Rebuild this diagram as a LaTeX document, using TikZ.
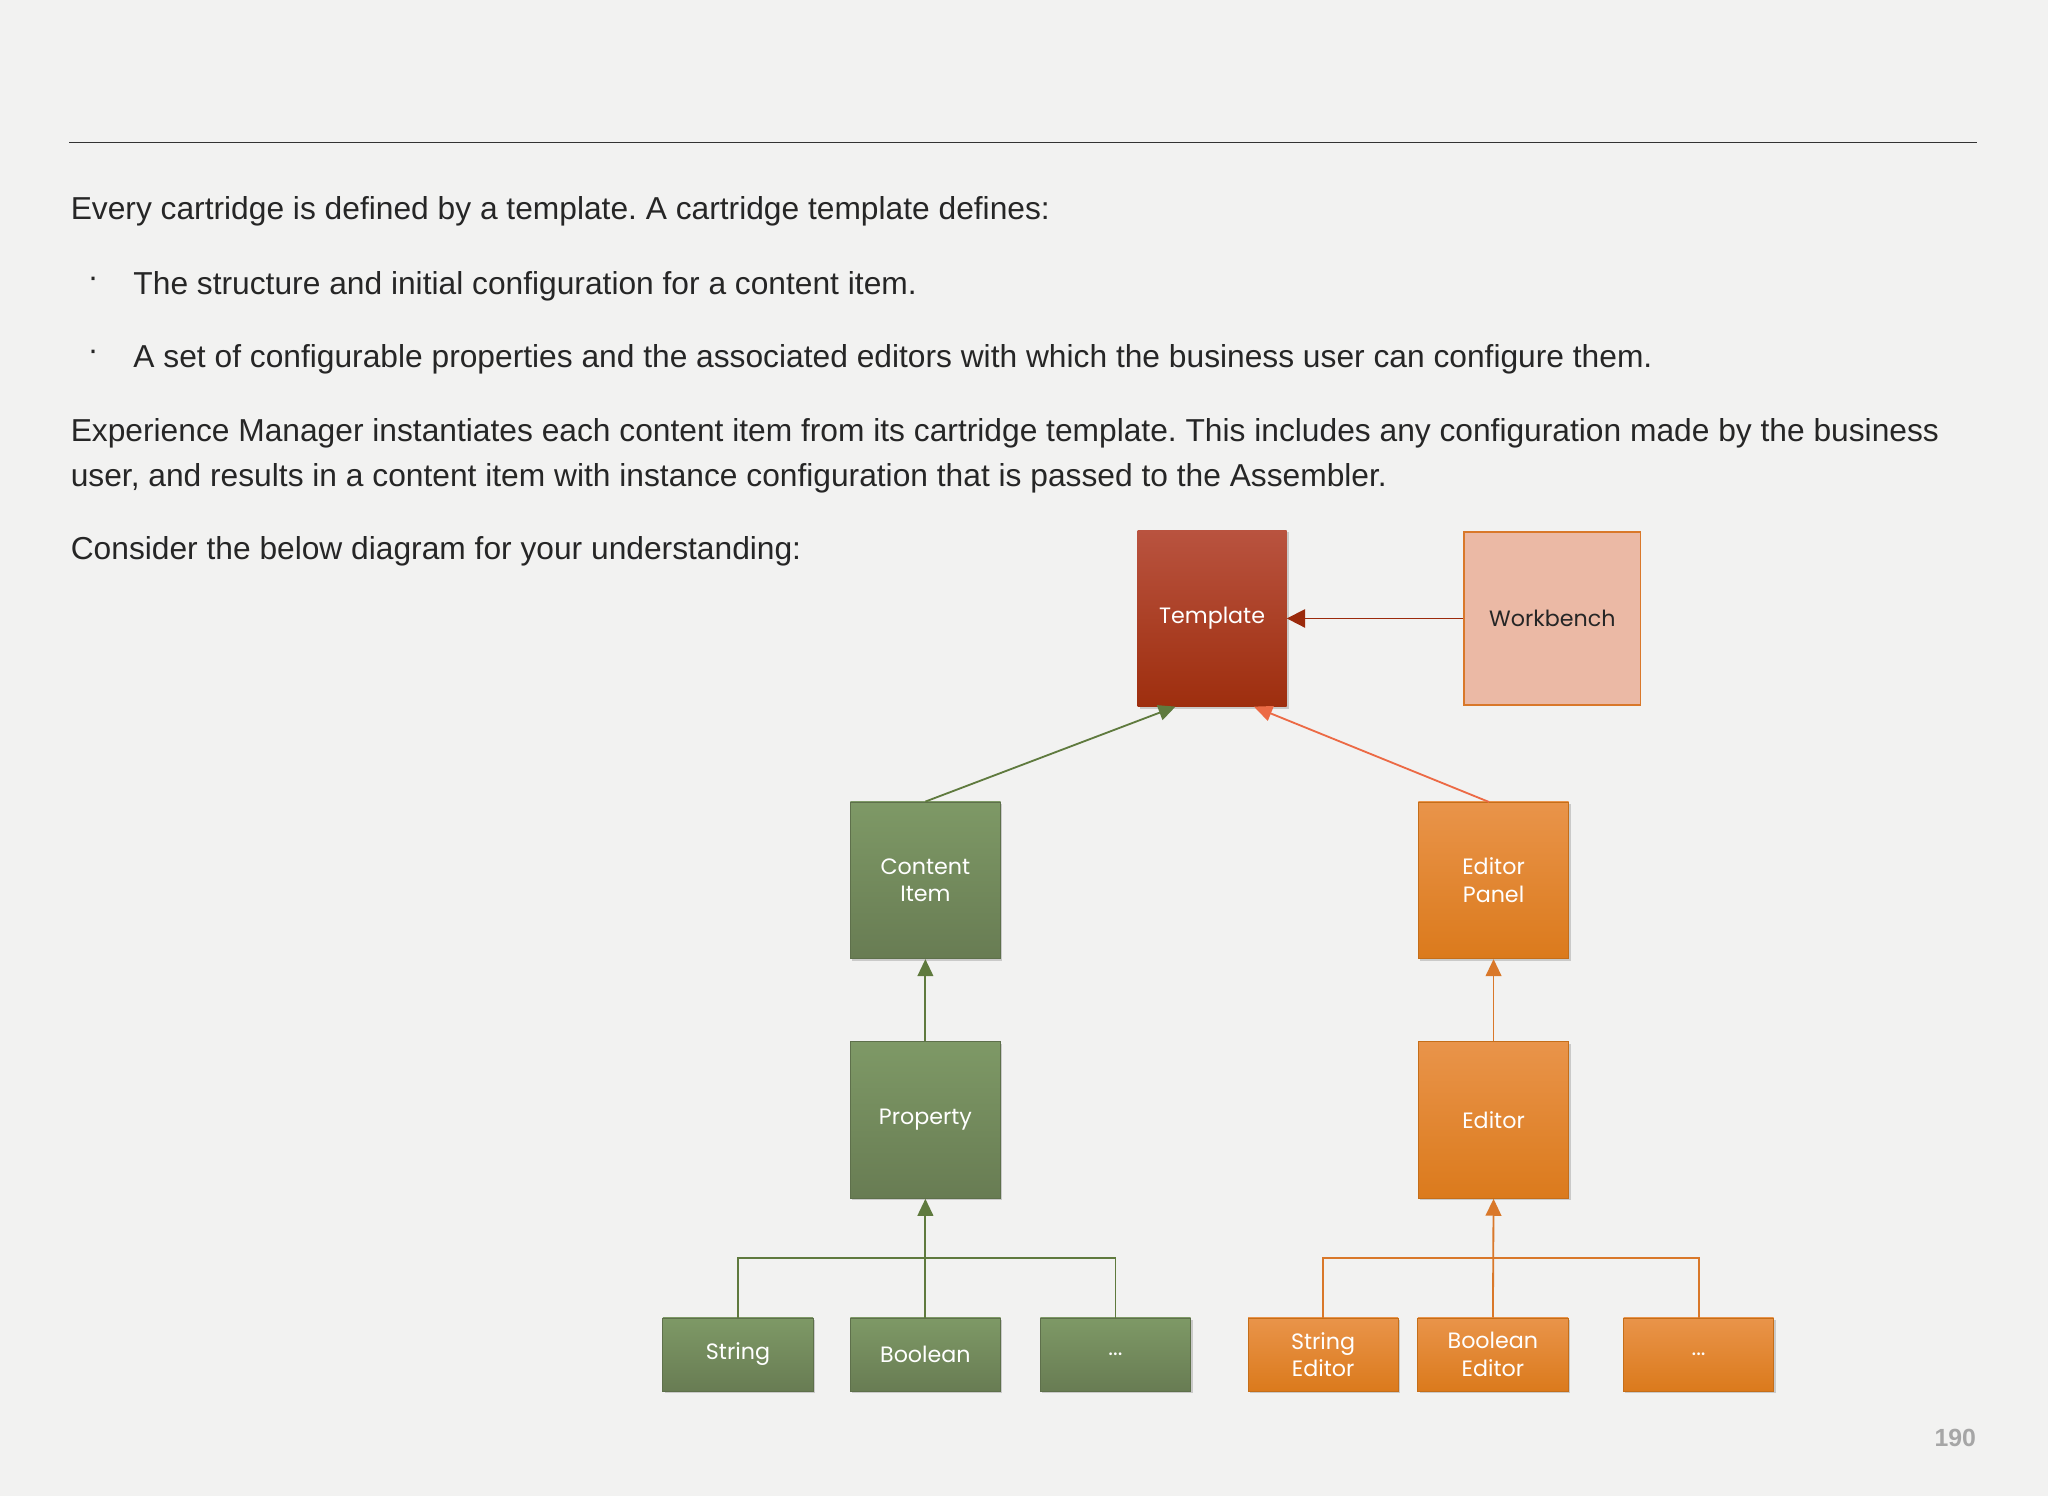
\documentclass[tikz,border=0pt]{standalone}
\usepackage{fontspec}
\setmainfont{Liberation Sans}
\newfontfamily\boxfont{Poppins}
\usetikzlibrary{arrows.meta,shadows}
\definecolor{bg}{HTML}{F2F2F1}
\definecolor{gtop}{HTML}{7E9966}
\definecolor{gbot}{HTML}{687C53}
\definecolor{gline}{HTML}{5F7A3E}
\definecolor{otop}{HTML}{E9944A}
\definecolor{obot}{HTML}{DB7A1C}
\definecolor{oline}{HTML}{D9782A}
\definecolor{rtop}{HTML}{B9533F}
\definecolor{rbot}{HTML}{9E2E0E}
\definecolor{wbfill}{HTML}{EBB9A5}
\definecolor{darkred}{HTML}{9B2A0C}
\definecolor{salmon}{HTML}{EC6A45}
\frenchspacing
\begin{document}
\begin{tikzpicture}[x=1pt,y=-1pt,
  bx/.style={draw=none,text=white,font=\boxfont\fontsize{17}{21}\selectfont,align=center,inner sep=0pt,drop shadow={shadow xshift=1.5pt,shadow yshift=-1.5pt,opacity=0.35}},
  gbox/.style={bx,top color=gtop,bottom color=gbot,draw=gbot!90!black,line width=0.6pt},
  obox/.style={bx,top color=otop,bottom color=obot,draw=obot!90!black,line width=0.6pt},
  big/.style={minimum width=115pt,minimum height=120pt},
  small/.style={minimum width=115pt,minimum height=56pt},
  txt/.style={anchor=west,inner sep=0pt,font=\fontsize{24.3}{29}\selectfont,text=black!85},
  garr/.style={draw=gline,line width=1.4pt,-{Triangle[length=13pt,width=12pt]}},
  oarr/.style={draw=oline,line width=1.4pt,-{Triangle[length=13pt,width=12pt]}},
  gln/.style={draw=gline,line width=1.4pt},
  oln/.style={draw=oline,line width=1.4pt}]
\fill[bg] (0,0) rectangle (1568,1145);
\useasboundingbox (0,0) rectangle (1568,1145);
\draw[line width=1pt,black!80] (53,109) -- (1514,109);
\node[txt] (t1) at (54,162) {Every cartridge is defined by a template. A cartridge template defines:};
\node[txt] (b1) at (67,216) {·};
\node[txt] (t2) at (102,219) {The structure and initial configuration for a content item.};
\node[txt] (b2) at (67,272) {·};
\node[txt] (t3) at (102,275) {A set of configurable properties and the associated editors with which the business user can configure them.};
\node[txt] (t4) at (54,332) {Experience Manager instantiates each content item from its cartridge template. This includes any configuration made by the business};
\node[txt] (t5) at (54,366) {user, and results in a content item with instance configuration that is passed to the Assembler.};
\node[txt] (t6) at (54,422) {Consider the below diagram for your understanding:};
\node[text=black!35,font=\bfseries\fontsize{19}{22}\selectfont] (pg) at (1497,1101) {190};

\node[bx,top color=rtop,bottom color=rbot,minimum width=114pt,minimum height=135pt] (tpl) at (928,473.5) {Template};
\node[draw=oline,fill=wbfill,line width=1.4pt,text=black!85,font=\boxfont\fontsize{17}{21}\selectfont,inner sep=0pt,minimum width=135pt,minimum height=133pt] (wb) at (1188.5,473.5) {Workbench};
\node[gbox,big] (ci) at (708.5,674) {Content\\Item};
\node[obox,big] (ep) at (1143.5,674) {Editor\\Panel};
\node[gbox,big] (pr) at (708.5,857.5) {Property};
\node[obox,big] (ed) at (1143.5,857.5) {Editor};
\node[gbox,small] (s) at (565,1037) {String};
\node[gbox,small] (b) at (708.5,1037) {Boolean};
\node[gbox,small] (d) at (854,1037) {...};
\node[obox,small] (se) at (1013,1037) {String\\Editor};
\node[obox,small] (be) at (1143,1037) {Boolean\\Editor};
\node[obox,small] (de) at (1300.5,1037) {...};

\draw[draw=darkred,line width=1.4pt,-{Triangle[length=14pt,width=14pt]}] (wb.west) -- (tpl.east);
\draw[garr] (ci.north) -- (900,541);
\draw[draw=salmon,line width=1.4pt,-{Triangle[length=14pt,width=12pt]}] (1140,614) -- (960,541);
\draw[garr] (pr.north) -- (ci.south);
\draw[oarr] (ed.north) -- (ep.south);
\draw[garr] (b.north) -- (pr.south);
\draw[gln] (s.north) |- (854,963) -- (d.north);
\draw[oarr] (be.north) -- (ed.south);
\draw[oln] (se.north) |- (1300.5,963) -- (de.north);
\end{tikzpicture}
\end{document}
